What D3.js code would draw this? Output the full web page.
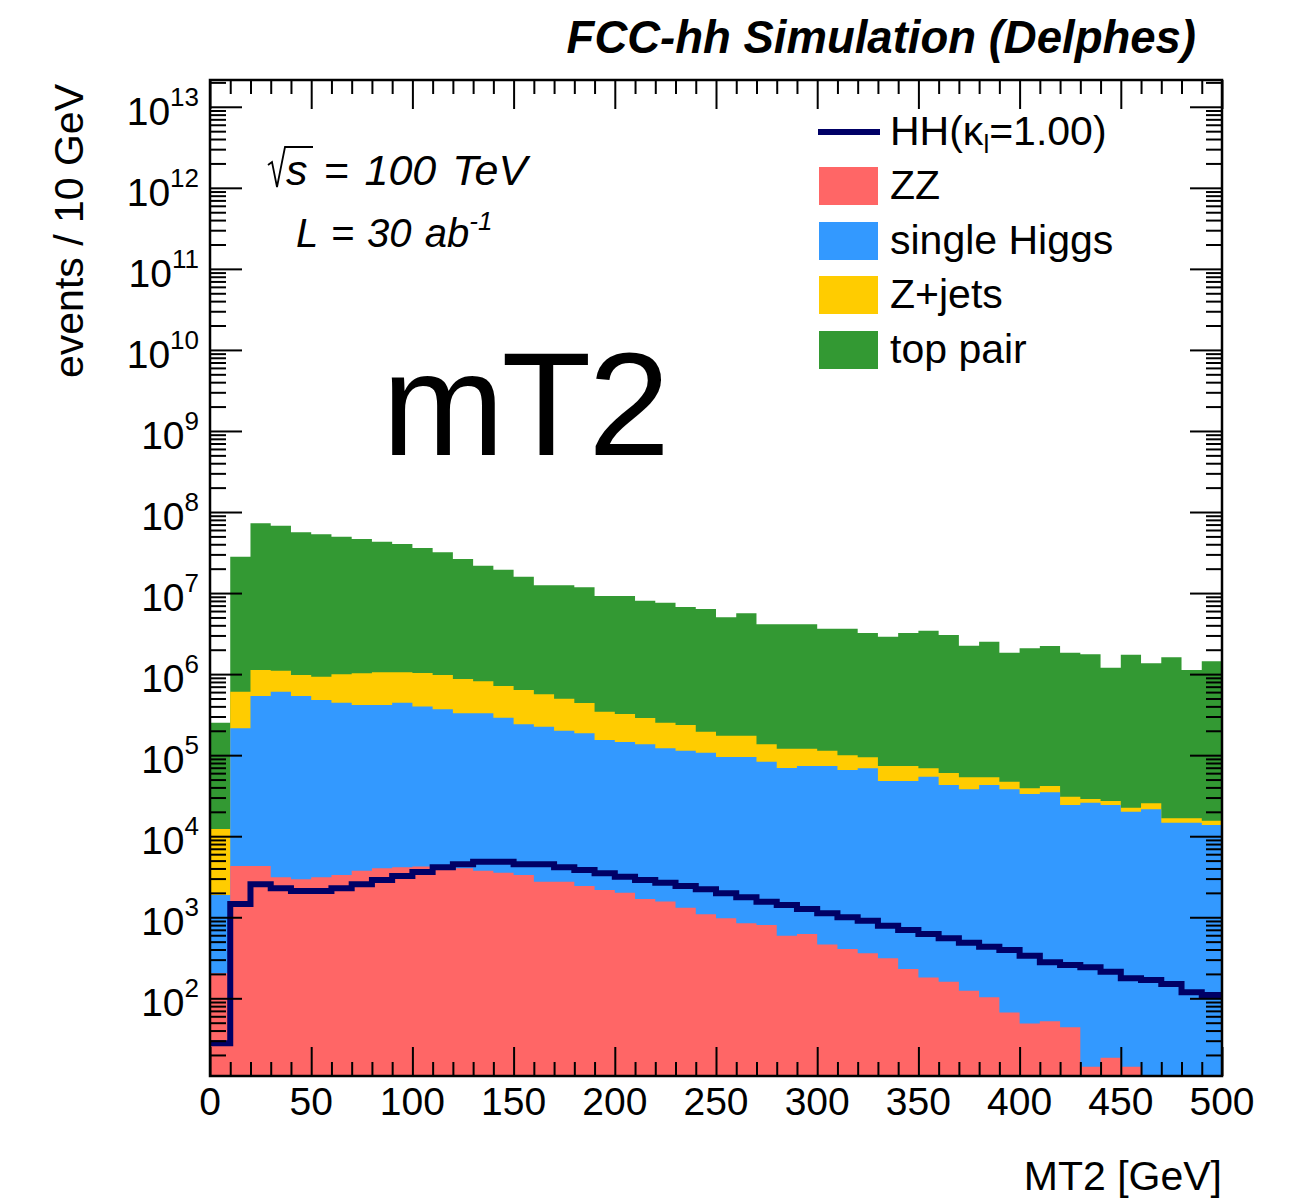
<!DOCTYPE html>
<html>
<head>
<meta charset="utf-8">
<script src="https://cdn.jsdelivr.net/npm/d3@7"></script>
<style>
  body { margin: 0; background: #fff; }
  svg { display: block; font-family: "Liberation Sans", Arial, Helvetica, sans-serif; }
</style>
</head>
<body>
<svg id="chart" width="1312" height="1200"></svg>
<script>
// MT2 distribution, 10 GeV bins from 0 to 500 GeV (lower bin edges)
const binLow = [0, 10, 20, 30, 40, 50, 60, 70, 80, 90,
                100, 110, 120, 130, 140, 150, 160, 170, 180, 190,
                200, 210, 220, 230, 240, 250, 260, 270, 280, 290,
                300, 310, 320, 330, 340, 350, 360, 370, 380, 390,
                400, 410, 420, 430, 440, 450, 460, 470, 480, 490];
const binWidth = 10;

// Background processes, events per bin (stacked bottom to top)
const zz = [204, 4290, 4290, 3110, 2940, 3110, 3320, 3750, 4020, 4140,
            4230, 4140, 4020, 3750, 3550, 3320, 2750, 2750, 2430, 2170,
            2010, 1680, 1560, 1310, 1090, 971, 842, 802, 592, 622,
            461, 406, 359, 312, 230, 180, 160, 124, 103, 67,
            49, 52, 44, 14.3, 18.5, 14.3, 0, 0, 0, 0];
const singleHiggs = [1680, 210300, 533100, 604200, 534500, 476600, 440900, 412300, 412100, 440100,
                     394600, 364300, 324700, 324900, 286500, 237200, 221900, 197800, 183800, 151700,
                     143400, 134500, 120000, 112300, 106200, 94030, 94160, 82300, 68870, 72910,
                     73070, 65230, 68510, 47700, 47780, 54090, 42690, 37810, 42750, 37860,
                     33140, 34780, 24240, 25910, 24260, 20060, 21490, 14690, 14690, 13760];
const zJets = [10400, 392700, 587600, 495700, 438600, 450300, 550800, 607900, 637900, 609800,
               634200, 607600, 542300, 487300, 424000, 396500, 339400, 297500, 254300, 190100,
               176900, 151400, 130000, 122100, 87600, 78900, 78900, 53100, 50740, 46670,
               40070, 34060, 25330, 25520, 25520, 14600, 17430, 15420, 10500, 9140,
               5840, 6830, 6460, 2880, 2920, 2410, 3990, 1950, 1950, 1790];
const topPair = [2.393e5, 2.752e7, 7.150e7, 6.676e7, 5.529e7, 5.223e7, 4.867e7, 4.550e7, 4.204e7, 3.930e7,
                 3.498e7, 3.089e7, 2.548e7, 2.096e7, 1.874e7, 1.530e7, 1.192e7, 1.198e7, 1.135e7, 8.866e6,
                 8.888e6, 7.772e6, 7.358e6, 6.504e6, 6.170e6, 4.856e6, 5.460e6, 3.985e6, 4.001e6, 4.001e6,
                 3.523e6, 3.537e6, 3.125e6, 2.823e6, 3.145e6, 3.367e6, 2.981e6, 2.191e6, 2.461e6, 1.792e6,
                 2.045e6, 2.183e6, 1.808e6, 1.728e6, 1.174e6, 1.716e6, 1.336e6, 1.597e6, 1.108e6, 1.424e6];

// Di-Higgs signal (kappa_lambda = 1), drawn unstacked as a line
const hhSignal = [27.8, 1458, 2551, 2277, 2109, 2109, 2277, 2551, 2883, 3229,
                  3619, 4135, 4504, 4850, 4850, 4504, 4504, 4135, 3830, 3486,
                  3166, 2883, 2670, 2430, 2213, 1975, 1764, 1556, 1417, 1265,
                  1119, 999, 907, 787, 696, 622, 550, 486, 433, 394,
                  335, 278, 258, 241, 213, 177, 168, 150, 119, 110];

// Axis ticks and labels
const xMajorTicks = [0, 50, 100, 150, 200, 250, 300, 350, 400, 450, 500];
const xTickLabels = ["0", "50", "100", "150", "200", "250", "300", "350", "400", "450", "500"];
const yDecadeExponents = [2, 3, 4, 5, 6, 7, 8, 9, 10, 11, 12, 13];

// Legend entries (signal first, then backgrounds)
const legendSignal = "HH";
const backgroundNames = ["ZZ", "single Higgs", "Z+jets", "top pair"];
const backgroundKeys = ["zz", "singleHiggs", "zJets", "topPair"];

// ---------------------------------------------------------------------------
const colors = { zz: "#ff6666", singleHiggs: "#3399ff", zJets: "#ffcc00", topPair: "#339933" };
const signalColor = "#000066";

const svg = d3.select("#chart");
const plot = { left: 210, right: 1222, top: 80, bottom: 1076 };
const yMin = 11.0, yMax = 2.14e13;

const x = d3.scaleLinear().domain([0, 500]).range([plot.left, plot.right]);
const y = d3.scaleLog().domain([yMin, yMax]).range([plot.bottom, plot.top]);
const yc = v => y(Math.max(v, yMin));

const rows = binLow.map((lo, i) => ({
  lo, hi: lo + binWidth,
  zz: zz[i], singleHiggs: singleHiggs[i], zJets: zJets[i], topPair: topPair[i], hh: hhSignal[i]
}));
const layers = d3.stack().keys(backgroundKeys)(rows);

svg.append("defs").append("clipPath").attr("id", "plotClip")
  .append("rect")
  .attr("x", plot.left).attr("y", plot.top)
  .attr("width", plot.right - plot.left).attr("height", plot.bottom - plot.top);

const body = svg.append("g").attr("clip-path", "url(#plotClip)");

// Cumulative histograms drawn from the top layer down, each filled to the axis floor
const stepArea = d3.area()
  .x(p => x(p.x))
  .y0(plot.bottom)
  .y1(p => yc(p.v));

layers.slice().reverse().forEach(layer => {
  const pts = layer.flatMap(d => [{ x: d.data.lo, v: d[1] }, { x: d.data.hi, v: d[1] }]);
  body.append("path")
    .attr("d", stepArea(pts))
    .attr("fill", colors[layer.key])
    .attr("stroke", "none");
});

// Signal histogram outline
const stepLine = d3.line().x(p => x(p.x)).y(p => yc(p.v));
const hhPts = rows.flatMap(d => [{ x: d.lo, v: d.hh }, { x: d.hi, v: d.hh }]);
body.append("path")
  .attr("d", stepLine(hhPts))
  .attr("fill", "none")
  .attr("stroke", signalColor)
  .attr("stroke-width", 6)
  .attr("stroke-linejoin", "miter");

// ---------------------------------------------------------------------------
// Axes: ticks on all four sides, pointing into the frame
const xMinorTicks = binLow.filter(v => v % 50 !== 0);
const yMajorTicks = yDecadeExponents.map(e => Math.pow(10, e)).filter(v => v >= yMin && v <= yMax);
const yMinorTicks = [];
for (let e = 1; e <= 13; e++) for (let m = 2; m <= 9; m++) {
  const v = m * Math.pow(10, e);
  if (v >= yMin && v <= yMax) yMinorTicks.push(v);
}

function drawTicks(axis, transform) {
  const g = svg.append("g").attr("transform", transform).call(axis);
  g.select(".domain").remove();
  g.selectAll("text").remove();
  g.selectAll("line").attr("stroke", "#000").attr("stroke-width", 2);
}
drawTicks(d3.axisBottom(x).tickValues(xMajorTicks).tickSize(-29).tickSizeOuter(0), `translate(0,${plot.bottom})`);
drawTicks(d3.axisBottom(x).tickValues(xMinorTicks).tickSize(-14).tickSizeOuter(0), `translate(0,${plot.bottom})`);
drawTicks(d3.axisTop(x).tickValues(xMajorTicks).tickSize(-29).tickSizeOuter(0), `translate(0,${plot.top})`);
drawTicks(d3.axisTop(x).tickValues(xMinorTicks).tickSize(-14).tickSizeOuter(0), `translate(0,${plot.top})`);
drawTicks(d3.axisLeft(y).tickValues(yMajorTicks).tickSize(-32).tickSizeOuter(0), `translate(${plot.left},0)`);
drawTicks(d3.axisLeft(y).tickValues(yMinorTicks).tickSize(-16).tickSizeOuter(0), `translate(${plot.left},0)`);
drawTicks(d3.axisRight(y).tickValues(yMajorTicks).tickSize(-32).tickSizeOuter(0), `translate(${plot.right},0)`);
drawTicks(d3.axisRight(y).tickValues(yMinorTicks).tickSize(-16).tickSizeOuter(0), `translate(${plot.right},0)`);

// Frame
svg.append("rect")
  .attr("x", plot.left).attr("y", plot.top)
  .attr("width", plot.right - plot.left).attr("height", plot.bottom - plot.top)
  .attr("fill", "none").attr("stroke", "#000").attr("stroke-width", 2.5);

// X tick labels
svg.append("g").selectAll("text")
  .data(xMajorTicks)
  .join("text")
  .attr("x", d => x(d))
  .attr("y", plot.bottom + 39)
  .attr("text-anchor", "middle")
  .attr("font-size", 39)
  .attr("fill", "#000")
  .text((d, i) => xTickLabels[i]);

// Y tick labels: 10^n
const yLab = svg.append("g").selectAll("text")
  .data(yDecadeExponents)
  .join("text")
  .attr("x", plot.left - 11)
  .attr("y", d => y(Math.pow(10, d)) + 18)
  .attr("text-anchor", "end")
  .attr("font-size", 39)
  .attr("fill", "#000");
yLab.append("tspan").text("10");
yLab.append("tspan").attr("dy", -19).attr("font-size", 26).text(d => String(d));

// Axis titles
svg.append("text")
  .attr("x", plot.right).attr("y", 1190)
  .attr("text-anchor", "end").attr("font-size", 41)
  .text("MT2 [GeV]");
svg.append("text")
  .attr("transform", `translate(83,${plot.top + 4}) rotate(-90)`)
  .attr("text-anchor", "end").attr("font-size", 41)
  .text("events / 10 GeV");

// Header
svg.append("text")
  .attr("x", 1196).attr("y", 53)
  .attr("text-anchor", "end").attr("font-size", 45.5)
  .attr("font-weight", "bold").attr("font-style", "italic")
  .text("FCC-hh Simulation (Delphes)");

// Energy and luminosity
const note = svg.append("g");
note.append("path")
  .attr("d", "M268,165 L272,162 L277,187 L285,147 L313,147")
  .attr("fill", "none").attr("stroke", "#000").attr("stroke-width", 1.8);
note.append("text")
  .attr("x", 286).attr("y", 185)
  .attr("font-size", 43).attr("font-style", "italic")
  .attr("word-spacing", 4)
  .attr("xml:space", "preserve")
  .text("s = 100 TeV");
const lumi = note.append("text")
  .attr("x", 296).attr("y", 247)
  .attr("font-size", 40).attr("font-style", "italic")
  .attr("word-spacing", 2);
lumi.append("tspan").text("L = 30 ab");
lumi.append("tspan").attr("dy", -17).attr("font-size", 26).text("-1");

// Variable tag
svg.append("text")
  .attr("x", 382).attr("y", 455)
  .attr("font-size", 147)
  .attr("letter-spacing", -3)
  .attr("fill", "#000")
  .text("mT2");

// ---------------------------------------------------------------------------
// Legend
const legend = svg.append("g");
const legX = 819, legBoxW = 59, legBoxH = 38, legTextX = 890;
const legRowY = [132, 186, 241, 295, 350];

legend.append("line")
  .attr("x1", legX - 1).attr("x2", legX + legBoxW + 2)
  .attr("y1", legRowY[0]).attr("y2", legRowY[0])
  .attr("stroke", signalColor).attr("stroke-width", 6);
const sigText = legend.append("text")
  .attr("x", legTextX).attr("y", legRowY[0] + 13)
  .attr("font-size", 41);
sigText.append("tspan").text(legendSignal + "(κ");
sigText.append("tspan").attr("dy", 8).attr("font-size", 26).text("l");
sigText.append("tspan").attr("dy", -8).text("=1.00)");

backgroundKeys.forEach((k, i) => {
  const cy = legRowY[i + 1];
  legend.append("rect")
    .attr("x", legX).attr("y", cy - legBoxH / 2)
    .attr("width", legBoxW).attr("height", legBoxH)
    .attr("fill", colors[k]);
  legend.append("text")
    .attr("x", legTextX).attr("y", cy + 13)
    .attr("font-size", 41)
    .text(backgroundNames[i]);
});
</script>
</body>
</html>
